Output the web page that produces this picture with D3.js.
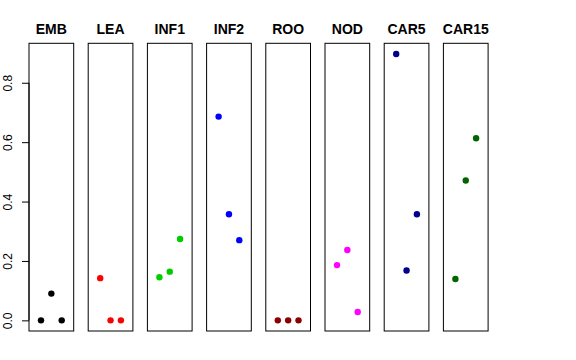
<!DOCTYPE html>
<html><head><meta charset="utf-8">
<script src="https://cdn.jsdelivr.net/npm/d3@7"></script>
<style>body{margin:0;background:#fff}</style>
</head><body>
<svg id="c" width="576" height="360"></svg>
<script>
const categories = ["EMB","LEA","INF1","INF2","ROO","NOD","CAR5","CAR15"];
const colors = ["#000000","#FF0000","#00CD00","#0000FF","#8B0000","#FF00FF","#00008B","#006400"];
const values = [
  [0, 0.090, 0],
  [0.142, 0, 0],
  [0.145, 0.164, 0.274],
  [0.686, 0.357, 0.270],
  [0, 0, 0],
  [0.186, 0.237, 0.028],
  [0.897, 0.168, 0.357],
  [0.139, 0.471, 0.613]
];
const yTicks = [0, 0.2, 0.4, 0.6, 0.8];

(function(){
const svg = d3.select("#c");
const pTop = 43.3, pBottom = 331;
const left0 = 29, step = 59.2, pw = 44.7;
const ymax = d3.max(values.flat());
const pad = ymax * 0.04;
const y = d3.scaleLinear().domain([-pad, ymax + pad]).range([pBottom, pTop]);

categories.forEach((cat, i) => {
  const x0 = left0 + i * step;
  const x = d3.scaleLinear().domain([-0.16, 4.16]).range([x0, x0 + pw]);
  const g = svg.append("g");
  g.selectAll("circle").data(values[i]).join("circle")
    .attr("cx", (d, j) => x(j + 1))
    .attr("cy", d => y(d))
    .attr("r", 3.2)
    .attr("fill", colors[i]);
  g.append("rect")
    .attr("x", x0).attr("y", pTop)
    .attr("width", pw).attr("height", pBottom - pTop)
    .attr("fill", "none").attr("stroke", "#000").attr("stroke-width", 1);
  g.append("text")
    .attr("x", x0 + pw / 2).attr("y", 34)
    .attr("text-anchor", "middle")
    .attr("font-family", "Liberation Sans, Arial, sans-serif")
    .attr("font-weight", "bold").attr("font-size", 14)
    .text(cat);
});

const axis = d3.axisLeft(y).tickValues(yTicks).tickSize(7).tickFormat(d3.format(".1f"));
const ag = svg.append("g").attr("transform", `translate(${left0},0)`).call(axis);
ag.select(".domain").attr("d", `M0,${y(0)}V${y(0.8)}`).attr("stroke", "#000");
ag.selectAll(".tick line").attr("stroke", "#000");
ag.selectAll(".tick text")
  .attr("font-family", "Liberation Sans, Arial, sans-serif")
  .attr("font-size", 12).attr("fill", "#000")
  .attr("text-anchor", "middle")
  .attr("transform", "translate(-21,0) rotate(-90)")
  .attr("x", 0).attr("y", 0).attr("dy", "0.35em");
})();
</script>
</body></html>
